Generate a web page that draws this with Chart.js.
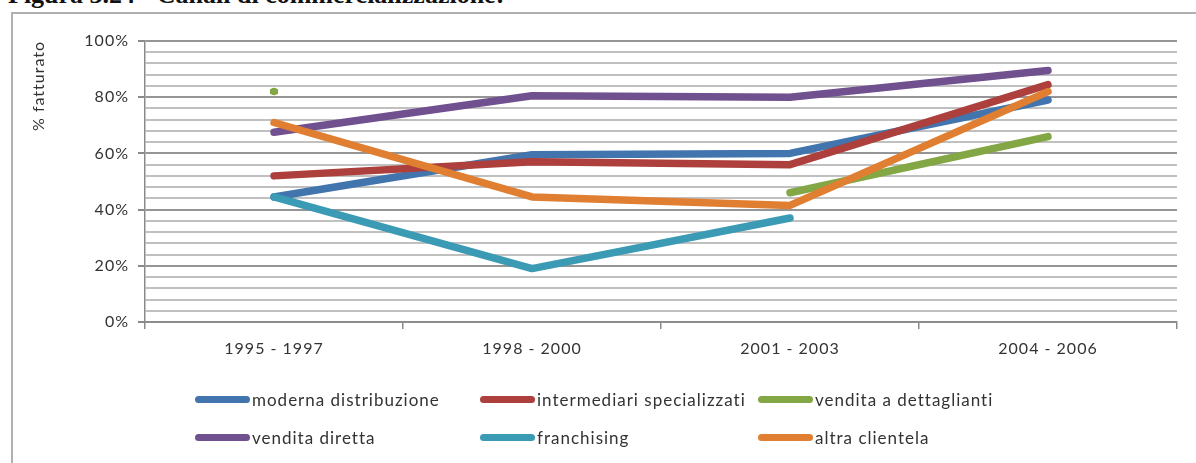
<!DOCTYPE html>
<html>
<head>
<meta charset="utf-8">
<script src="https://cdn.jsdelivr.net/npm/chart.js@4"></script>
<style>
    html, body { margin: 0; padding: 0; background: #fff; }
    body { width: 1196px; height: 463px; position: relative; overflow: hidden; }
    #title {
        position: absolute; left: 8px; top: -20px;
        font: bold 26px 'Liberation Serif', 'Times New Roman', serif;
        color: #111; white-space: nowrap; line-height: 30px;
    }
    #frame {
        position: absolute; left: 11px; top: 12px; width: 1300px; height: 600px;
        border: 2px solid #b0b0b0; box-sizing: border-box;
    }
    #wrap { position: absolute; left: 0; top: 0; width: 1196px; height: 463px; }
    #legend { position: absolute; left: 0; top: 0; }
    .item {
        position: absolute; display: flex; align-items: center;
        font: 17px Lato, 'Noto Sans', sans-serif; letter-spacing: 1px; color: #333;
        white-space: nowrap; height: 20px;
    }
    .sw { width: 55px; height: 7px; border-radius: 3.5px; margin-right: 2px; }
</style>
</head>
<body>
<div id="title">Figura 3.24 - Canali di commercializzazione:</div>
<div id="frame"></div>
<div id="wrap"><canvas id="chart"></canvas></div>
<div id="legend"></div>
<script>
    // DATA
    const periods = ['1995 - 1997', '1998 - 2000', '2001 - 2003', '2004 - 2006'];
    const seriesNames = ['moderna distribuzione', 'intermediari specializzati', 'vendita a dettaglianti',
        'vendita diretta', 'franchising', 'altra clientela'];
    const modernaDistribuzione = [44.5, 59.5, 60, 79];
    const intermediariSpecializzati = [52, 57, 56, 84.5];
    const venditaDettaglianti = [82, null, 46, 66];
    const venditaDiretta = [67.5, 80.5, 80, 89.5];
    const franchising = [44.5, 19, 37, null];
    const altraClientela = [71, 44.5, 41.5, 82];
    const seriesColors = ['#4274ae', '#ad3f3c', '#83a744', '#71508f', '#3b9ab4', '#e07f31'];
    const yTicks = [0, 20, 40, 60, 80, 100];

    const allSeries = [modernaDistribuzione, intermediariSpecializzati, venditaDettaglianti,
        venditaDiretta, franchising, altraClientela];

    const datasets = allSeries.map((values, i) => ({
        label: seriesNames[i],
        data: values,
        borderColor: seriesColors[i],
        backgroundColor: seriesColors[i],
        borderWidth: 7.5,
        borderCapStyle: 'round',
        borderJoinStyle: 'round',
        tension: 0,
        spanGaps: false,
        // later series drawn on top, like in the original
        order: seriesNames.length - i,
        pointRadius: values.map((v, j) =>
            (v !== null && values[j - 1] == null && values[j + 1] == null) ? 4 : 0),
        pointStyle: 'line',
        pointBorderWidth: 5,
        pointBorderColor: seriesColors[i],
        pointHoverRadius: 0
    }));

    const spacing = {
        id: 'spacing',
        beforeDraw(chart) { chart.ctx.letterSpacing = '1px'; }
    };

    const chart = new Chart(document.getElementById('chart'), {
        type: 'line',
        data: { labels: periods, datasets },
        plugins: [spacing],
        options: {
            responsive: true,
            maintainAspectRatio: false,
            animation: false,
            layout: { padding: { top: 41, right: 19, left: 0, bottom: 0 } },
            plugins: { legend: { display: false }, tooltip: { enabled: false } },
            scales: {
                x: {
                    offset: true,
                    grid: {
                        offset: true, drawOnChartArea: false, tickLength: 7,
                        color: '#8a8a8a', lineWidth: 1.5
                    },
                    border: { color: '#8a8a8a', width: 1.5 },
                    ticks: {
                        color: '#333', padding: 10,
                        font: { family: 'Lato', size: 16 }
                    },
                    afterFit(scale) { scale.height = 141; }
                },
                y: {
                    min: 0, max: 100,
                    grid: {
                        color: ctx => ctx.tick && yTicks.includes(ctx.tick.value) ? '#959595' : '#c0c0c0',
                        tickColor: ctx => ctx.tick && yTicks.includes(ctx.tick.value) ? '#8a8a8a' : 'rgba(0,0,0,0)',
                        lineWidth: 2,
                        tickLength: 7
                    },
                    border: { color: '#8a8a8a', width: 1.5 },
                    ticks: {
                        stepSize: 4,
                        autoSkip: false,
                        color: '#333',
                        padding: 9,
                        font: { family: 'Lato', size: 16 },
                        callback: v => yTicks.includes(v) ? v + '%' : ''
                    },
                    title: {
                        display: true, text: '% fatturato', align: 'end',
                        color: '#333', font: { family: 'Lato', size: 16 },
                        padding: { top: 29, bottom: 0 }
                    },
                    afterFit(scale) { scale.width = 145; }
                }
            }
        }
    });

    // HTML legend in a 3-column grid, as in the original
    const legendEl = document.getElementById('legend');
    const colX = [195, 480, 758];
    const rowY = [389, 427];
    seriesNames.forEach((name, i) => {
        const item = document.createElement('div');
        item.className = 'item';
        item.style.left = colX[i % 3] + 'px';
        item.style.top = rowY[Math.floor(i / 3)] + 'px';
        const sw = document.createElement('span');
        sw.className = 'sw';
        sw.style.background = seriesColors[i];
        item.appendChild(sw);
        item.appendChild(document.createTextNode(name));
        legendEl.appendChild(item);
    });
</script>
</body>
</html>
